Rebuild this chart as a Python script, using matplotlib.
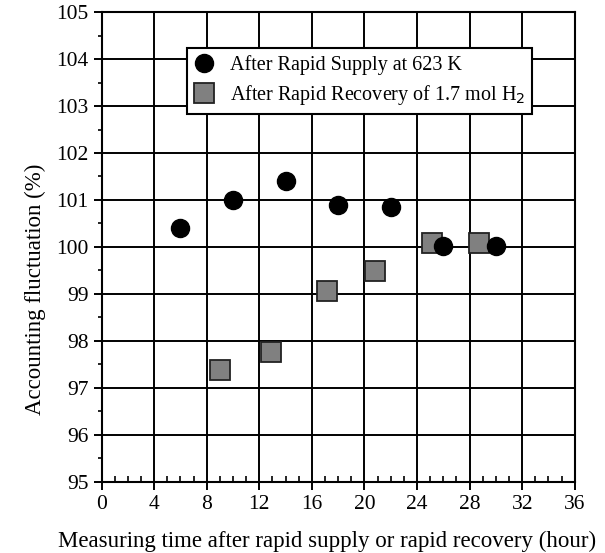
import matplotlib.pyplot as plt
from matplotlib.ticker import MultipleLocator

plt.rcParams['font.family'] = ['Liberation Serif', 'DejaVu Serif']

# after rapid supply at 623 K
supply_t = [6, 10, 14, 18, 22, 26, 30]
supply_v = [100.4, 101.0, 101.4, 100.9, 100.85, 100.02, 100.02]

# after rapid recovery of 1.7 mol H2
recov_t = [9.0, 12.85, 17.15, 20.8, 25.1, 28.7]
recov_v = [97.37, 97.77, 99.07, 99.48, 100.08, 100.08]

fig = plt.figure(figsize=(6.05, 5.53), dpi=100)
ax = fig.add_axes([0.168, 0.129, 0.782, 0.849])

ax.plot(supply_t, supply_v, 'o', color='black', markersize=13, zorder=4,
        label='After Rapid Supply at 623 K')
ax.plot(recov_t, recov_v, 's', color='#808080', markeredgecolor='#222222',
        markeredgewidth=1.3, markersize=14, zorder=3,
        label='After Rapid Recovery of 1.7 mol H$_2$')

ax.set_xlim(0, 36)
ax.set_ylim(95, 105)
ax.xaxis.set_major_locator(MultipleLocator(4))
ax.xaxis.set_minor_locator(MultipleLocator(1))
ax.yaxis.set_major_locator(MultipleLocator(1))
ax.yaxis.set_minor_locator(MultipleLocator(0.5))
ax.grid(True, which='major', color='black', linewidth=1.4)
ax.set_axisbelow(True)
for s in ax.spines.values():
    s.set_linewidth(1.5)
ax.tick_params(which='major', direction='out', length=6, width=1.4, labelsize=15.5)
ax.tick_params(axis='x', which='minor', direction='in', length=4, width=1.2)
ax.tick_params(axis='y', which='minor', direction='out', length=3, width=1.2)

ax.set_xlabel('Measuring time after rapid supply or rapid recovery (hour)',
              fontsize=16.5)
ax.set_ylabel('Accounting fluctuation (%)', fontsize=16.5)
ax.xaxis.set_label_coords(0.477, -0.105)
ax.yaxis.set_label_coords(-0.118, 0.41)

leg = ax.legend(loc='upper left', bbox_to_anchor=(0.18, 0.924), fontsize=14.5,
                frameon=True, fancybox=False, framealpha=1, edgecolor='black',
                handletextpad=0.8, borderpad=0.35, labelspacing=0.4,
                handlelength=1.0, borderaxespad=0)
leg.get_frame().set_linewidth(1.5)
leg.set_zorder(5)

plt.savefig('out.png', dpi=100)
